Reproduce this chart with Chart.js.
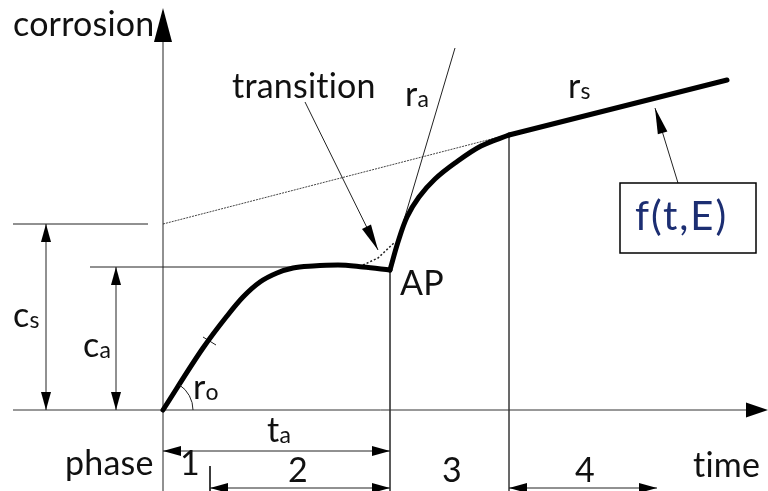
<!DOCTYPE html>
<html>
<head>
<meta charset="utf-8">
<script src="https://cdn.jsdelivr.net/npm/chart.js@4.4.1/dist/chart.umd.min.js"></script>
<style>
  html, body { margin: 0; padding: 0; background: #fff; }
  #wrap { width: 768px; height: 491px; }
</style>
</head>
<body>
<div id="wrap"><canvas id="diagramChart"></canvas></div>
<script>
// diagram units: origin where the curve starts, y goes up
const xRange = [-163, 605];
const yRange = [-81, 410];

// thick corrosion curve
const rampCurve = [[0, 0], [40, 62], [64, 94], [80, 113], [97, 128], [114, 137], [130, 142], [150, 144], [175, 145], [200, 143], [227, 140]];
const activeCurve = [[227, 140], [235, 168], [244, 193], [256, 213], [272, 231], [292, 247], [318, 264], [346, 275]];
const steadyLine = [[346, 275], [564, 330]];

// thin construction lines
const timeAxis = [[-150, 0], [585, 0]];
const corrosionAxis = [[0, -81], [0, 370]];
const tangentRa = [[235, 170], [292, 362]];
const steadyExtension = [[0, 186], [340, 274]];
const csLevel = [[-150, 186], [-15, 186]];
const caLevel = [[-73, 143], [137, 143]];
const apDrop = [[227, 140], [227, -81]];
const kneeDrop = [[346, 275], [346, -81]];
const transitionDots = [[200, 145], [215, 152], [232, 168]];
const phase2Tick = [[47, -56], [47, -81]];
const r0Tick = [[40, 73], [53, 65]];

// dimension lines with arrows at both ends
const csDim = [[-117, 0], [-117, 186]];
const caDim = [[-47, 0], [-47, 143]];
const taDim = [[0, -41], [227, -41]];
const phase2Dim = [[47, -78], [227, -78]];
const phase4Dim = [[346, -78], [494, -78]];

// leader arrows (from, to)
const transitionLeader = [[142, 308], [215, 160]];
const fLeader = [[515, 227], [492, 302]];
const fBox = [[457, 227], [593, 157]];

// labels: text, subscript, x, y
const labelTexts = ['corrosion', 'transition', 'r', 'r', 'AP', 'c', 'c', 'r', 't', 'phase', '1', '2', '3', '4', 'time'];
const labelSubs = ['', '', 'a', 's', '', 's', 'a', 'o', 'a', '', '', '', '', '', ''];
const labelX = [-150, 69, 242, 405, 237, -150, -80, 30, 104, -98, 17, 125, 279, 412, 530];
const labelY = [374, 312, 304, 312, 115, 83, 53, 11, -32, -65, -65, -72, -72, -72, -67];

const mainFont = 'Lato, "Liberation Sans", sans-serif';

function toPoints(arr) {
    return arr.map(p => ({ x: p[0], y: p[1] }));
}

function thinLine(arr, color, dash) {
    return {
        data: toPoints(arr),
        showLine: true,
        borderColor: color,
        borderWidth: 1,
        borderDash: dash || [],
        pointRadius: 0,
        tension: 0
    };
}

function thickLine(arr, curve) {
    const ds = {
        data: toPoints(arr),
        showLine: true,
        borderColor: '#000',
        borderWidth: 5,
        borderCapStyle: 'round',
        borderJoinStyle: 'round',
        pointRadius: 0,
        tension: 0
    };
    if (curve === 'monotone') ds.cubicInterpolationMode = 'monotone';
    if (curve === 'smooth') ds.tension = 0.35;
    return ds;
}

function arrowHead(ctx, fx, fy, tx, ty, len, half) {
    const a = Math.atan2(ty - fy, tx - fx);
    const c = Math.cos(a), s = Math.sin(a);
    ctx.beginPath();
    ctx.moveTo(tx, ty);
    ctx.lineTo(tx - len * c + half * s, ty - len * s - half * c);
    ctx.lineTo(tx - len * c - half * s, ty - len * s + half * c);
    ctx.closePath();
    ctx.fill();
}

const sketchPlugin = {
    id: 'sketch',
    afterDatasetsDraw(chart) {
        const ctx = chart.ctx;
        const px = v => chart.scales.x.getPixelForValue(v);
        const py = v => chart.scales.y.getPixelForValue(v);
        ctx.save();
        ctx.fillStyle = '#000';
        ctx.strokeStyle = '#222';
        ctx.lineWidth = 1;

        // axis arrow heads
        arrowHead(ctx, px(0), py(360), px(0), py(402), 34, 9);
        arrowHead(ctx, px(570), py(0), px(605), py(0), 22, 7.5);

        // dimension lines
        [csDim, caDim, taDim, phase2Dim, phase4Dim].forEach(d => {
            const x1 = px(d[0][0]), y1 = py(d[0][1]);
            const x2 = px(d[1][0]), y2 = py(d[1][1]);
            ctx.beginPath();
            ctx.moveTo(x1, y1);
            ctx.lineTo(x2, y2);
            ctx.stroke();
            arrowHead(ctx, x2, y2, x1, y1, 18, 5);
            arrowHead(ctx, x1, y1, x2, y2, 18, 5);
        });

        // leader arrows
        [transitionLeader, fLeader].forEach(d => {
            const x1 = px(d[0][0]), y1 = py(d[0][1]);
            const x2 = px(d[1][0]), y2 = py(d[1][1]);
            ctx.beginPath();
            ctx.moveTo(x1, y1);
            ctx.lineTo(x2, y2);
            ctx.stroke();
            arrowHead(ctx, x1, y1, x2, y2, 26, 5);
        });

        // r0 angle arc
        ctx.beginPath();
        ctx.arc(px(0), py(0), 30, -Math.atan2(62, 40), 0);
        ctx.stroke();

        // f(t,E) box
        const bx = px(fBox[0][0]), by = py(fBox[0][1]);
        const bw = px(fBox[1][0]) - bx, bh = py(fBox[1][1]) - by;
        ctx.lineWidth = 1.5;
        ctx.strokeStyle = '#000';
        ctx.strokeRect(bx, by, bw, bh);
        ctx.fillStyle = '#1c2e72';
        ctx.font = '40px ' + mainFont;
        ctx.textBaseline = 'alphabetic';
        ctx.letterSpacing = '2px';
        ctx.fillText('f(t,E)', px(472), py(180));

        // labels
        ctx.fillStyle = '#111';
        ctx.letterSpacing = '0.2px';
        labelTexts.forEach((t, i) => {
            const x = px(labelX[i]), y = py(labelY[i]);
            ctx.font = '34px ' + mainFont;
            ctx.fillText(t, x, y);
            if (labelSubs[i]) {
                const w = ctx.measureText(t).width;
                ctx.font = '23px ' + mainFont;
                ctx.fillText(labelSubs[i], x + w, y + 1);
            }
        });
        ctx.restore();
    }
};

const datasets = [
    thickLine(rampCurve, 'monotone'),
    thickLine(activeCurve, 'smooth'),
    thickLine(steadyLine, ''),
    thinLine(timeAxis, '#333'),
    thinLine(corrosionAxis, '#222'),
    thinLine(tangentRa, '#222'),
    thinLine(steadyExtension, '#444', [2, 1]),
    thinLine(csLevel, '#222'),
    thinLine(caLevel, '#222'),
    thinLine(apDrop, '#444'),
    thinLine(kneeDrop, '#555'),
    thinLine(transitionDots, '#222', [2, 2]),
    thinLine(phase2Tick, '#222'),
    thinLine(r0Tick, '#222')
];
datasets[11].borderWidth = 1.5;

new Chart(document.getElementById('diagramChart').getContext('2d'), {
    type: 'scatter',
    data: { datasets: datasets },
    options: {
        responsive: true,
        maintainAspectRatio: false,
        animation: false,
        events: [],
        layout: { padding: 0 },
        plugins: { legend: { display: false }, tooltip: { enabled: false } },
        scales: {
            x: { type: 'linear', display: false, min: xRange[0], max: xRange[1] },
            y: { type: 'linear', display: false, min: yRange[0], max: yRange[1] }
        }
    },
    plugins: [sketchPlugin]
});
</script>
</body>
</html>
